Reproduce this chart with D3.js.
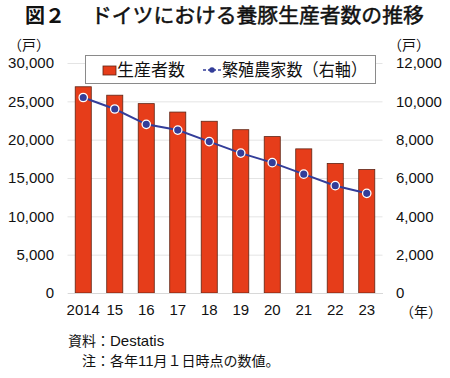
<!DOCTYPE html>
<html>
<head>
<meta charset="utf-8">
<script src="https://cdn.jsdelivr.net/npm/d3@7"></script>
<style>
  body { margin: 0; background: #fff; }
  svg text { fill: #111; }
  .num { font-family: "Liberation Sans", Arial, sans-serif; font-size: 15px; }
  .jp { font-family: "Noto Sans CJK JP", sans-serif; }
  .lat { font-family: "Liberation Sans", Arial, sans-serif; }
</style>
</head>
<body>
<svg id="chart" width="450" height="378"></svg>
<script>
// data
const years = ["2014", "15", "16", "17", "18", "19", "20", "21", "22", "23"];
const producers = [26900, 25800, 24700, 23600, 22400, 21300, 20400, 18800, 16900, 16100];
const breeders = [10200, 9600, 8800, 8500, 7900, 7300, 6800, 6200, 5600, 5200];
const leftTicks = [0, 5000, 10000, 15000, 20000, 25000, 30000];
const rightTicks = [0, 2000, 4000, 6000, 8000, 10000, 12000];

const svg = d3.select("#chart");
const plot = {left: 67.5, right: 382.5, top: 63, bottom: 293};

const x = d3.scaleBand().domain(years).range([plot.left, plot.right]).paddingInner(0.49).paddingOuter(0.245);
const yL = d3.scaleLinear().domain([0, 30000]).range([plot.bottom, plot.top]);
const yR = d3.scaleLinear().domain([0, 12000]).range([plot.bottom, plot.top]);

// title
svg.append("text").attr("class", "jp").attr("x", 25).attr("y", 23)
    .style("font-size", "20px").style("font-weight", "bold").text("図２");
svg.append("text").attr("class", "jp").attr("x", 91).attr("y", 23)
    .style("font-size", "20.8px").attr("stroke", "#111").attr("stroke-width", 0.5)
    .text("ドイツにおける養豚生産者数の推移");

// unit labels
svg.append("text").attr("class", "jp").attr("x", 29).attr("y", 50).attr("text-anchor", "middle")
    .style("font-size", "14px").text("（戸）");
svg.append("text").attr("class", "jp").attr("x", 409).attr("y", 50).attr("text-anchor", "middle")
    .style("font-size", "14px").text("（戸）");

// gridlines
const grid = svg.append("g").attr("transform", `translate(${plot.left},0)`)
    .call(d3.axisLeft(yL).tickValues(leftTicks).tickSize(-(plot.right - plot.left)).tickFormat(""));
grid.select(".domain").remove();
grid.selectAll("line").attr("stroke", "#e4e4e4").attr("stroke-width", 1);

// left axis
const gl = svg.append("g").attr("transform", `translate(54,0)`)
    .call(d3.axisLeft(yL).tickValues(leftTicks).tickSize(0).tickPadding(0).tickFormat(d3.format(",")));
gl.select(".domain").remove();
gl.selectAll("text").attr("class", "num").attr("fill", "#111");

// right axis
const gr = svg.append("g").attr("transform", `translate(396,0)`)
    .call(d3.axisRight(yR).tickValues(rightTicks).tickSize(0).tickPadding(0).tickFormat(d3.format(",")));
gr.select(".domain").remove();
gr.selectAll("text").attr("class", "num").attr("fill", "#111");

// bars
svg.append("g").selectAll("rect")
    .data(producers)
    .join("rect")
    .attr("x", (d, i) => x(years[i]))
    .attr("y", d => yL(d))
    .attr("width", x.bandwidth())
    .attr("height", d => yL(0) - yL(d))
    .attr("fill", "#e63d1a")
    .attr("stroke", "#5e2414")
    .attr("stroke-width", 0.8);

// line
const line = d3.line().x((d, i) => x(years[i]) + x.bandwidth() / 2).y(d => yR(d));
svg.append("path").datum(breeders)
    .attr("d", line).attr("fill", "none").attr("stroke", "#333d99").attr("stroke-width", 2);
svg.append("g").selectAll("circle")
    .data(breeders)
    .join("circle")
    .attr("cx", (d, i) => x(years[i]) + x.bandwidth() / 2)
    .attr("cy", d => yR(d))
    .attr("r", 4.2)
    .attr("fill", "#333d99")
    .attr("stroke", "#fff")
    .attr("stroke-width", 1.3);

// x axis
const gx = svg.append("g").attr("transform", `translate(0,${plot.bottom})`)
    .call(d3.axisBottom(x).tickSize(0).tickPadding(11));
gx.select(".domain").attr("stroke", "#d8d8d8");
gx.selectAll("text").attr("class", "num").attr("fill", "#111");
svg.append("text").attr("class", "jp").attr("x", 421).attr("y", 317).attr("text-anchor", "middle")
    .style("font-size", "14px").text("（年）");

// legend
const lg = svg.append("g");
lg.append("rect").attr("x", 85.5).attr("y", 55.5).attr("width", 290).attr("height", 28)
    .attr("fill", "#fff").attr("stroke", "#8a8a8a").attr("stroke-width", 1);
lg.append("rect").attr("x", 103).attr("y", 66).attr("width", 13).attr("height", 9)
    .attr("fill", "#e63d1a").attr("stroke", "#5e2414").attr("stroke-width", 0.8);
lg.append("text").attr("class", "jp").attr("x", 117).attr("y", 76).style("font-size", "17px").text("生産者数");
lg.append("line").attr("x1", 203).attr("x2", 221).attr("y1", 70).attr("y2", 70)
    .attr("stroke", "#333d99").attr("stroke-width", 1.5).attr("stroke-dasharray", "3,2");
lg.append("circle").attr("cx", 212).attr("cy", 70).attr("r", 2.8).attr("fill", "#333d99");
lg.append("text").attr("class", "jp").attr("x", 222).attr("y", 76).style("font-size", "17px")
    .attr("textLength", 145).attr("lengthAdjust", "spacingAndGlyphs").text("繁殖農家数（右軸）");

// notes
const n1 = svg.append("text").attr("class", "jp").attr("x", 68).attr("y", 346).style("font-size", "14px");
n1.append("tspan").text("資料：");
n1.append("tspan").attr("class", "lat").style("font-size", "15px").text("Destatis");
const n2 = svg.append("text").attr("class", "jp").attr("x", 82).attr("y", 366).style("font-size", "14px");
n2.append("tspan").text("注：各年");
n2.append("tspan").attr("class", "lat").style("font-size", "15px").text("11");
n2.append("tspan").text("月１日時点の数値。");
</script>
</body>
</html>
